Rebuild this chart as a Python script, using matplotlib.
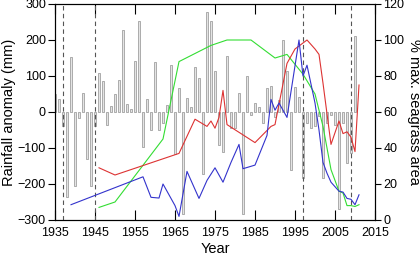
import matplotlib
matplotlib.use("Agg")
import matplotlib.pyplot as plt

plt.rcParams["font.family"] = ["Liberation Sans", "DejaVu Sans"]

# annual rainfall anomaly (mm), 1935-2010
years = list(range(1935, 2011))
rain = [50, 35, -40, -235, 154, -206, -17, 52, -130, -206,
        -40, 109, 85, -36, 17, 49, 89, 227, 22, 7,
        142, 254, -96, 35, -50, 140, -50, -30, 20, 130,
        -118, 66, -283, 40, 13, 126, 94, -173, 277, 254,
        115, -92, -111, 155, -45, -45, 52, -284, 101, -8,
        24, 13, -31, 66, 72, -13, 33, 201, 115, -160,
        69, 43, -183, -31, -45, -40, -10, -184, -30, -8,
        -36, -270, -31, -141, -115, 211]

# % of maximum seagrass area
green_yr = [1946, 1950, 1962, 1966, 1974, 1978, 1984, 1990, 1993, 1997,
            2000, 2002, 2004, 2006, 2007, 2008, 2009, 2010, 2011]
green = [7, 10, 45, 88, 97, 100, 100, 90, 92, 81,
         70, 52, 28, 16, 15, 8, 8, 7.5, 8.5]

red_yr = [1946, 1950, 1966, 1970, 1973, 1974, 1975, 1976, 1977, 1978,
          1985, 1989, 1990, 1993, 1995, 1998, 2000, 2001, 2002, 2004,
          2006, 2007, 2008, 2009, 2010, 2011]
red = [29, 25, 37, 56, 52, 55, 51, 57, 72, 53,
       43, 52, 53, 87, 95, 100, 95, 92, 76, 42,
       55, 48, 49, 46, 38, 75]

blue_yr = [1939, 1957, 1959, 1961, 1962, 1963, 1965, 1966, 1968, 1971,
           1973, 1975, 1977, 1979, 1981, 1982, 1985, 1988, 1989, 1990,
           1991, 1993, 1996, 1997, 1998, 2000, 2001, 2002, 2003, 2004,
           2006, 2007, 2008, 2009, 2010, 2011]
blue = [8.5, 24, 12.6, 12.2, 20, 16, 8, 2, 27, 12,
        22, 29, 21, 32, 42, 28.5, 30.5, 47, 67, 61,
        65, 57, 100, 80, 86, 65, 50, 32, 26, 21,
        16, 15.5, 12, 11.5, 8.5, 14]

events = [1937, 1945, 1997, 2009]

fig = plt.figure(figsize=(4.2, 2.56), dpi=100)
ax = fig.add_axes([55 / 420, 36 / 256, 320 / 420, 216 / 256])

ax.bar(years, rain, width=0.5, color="#e4e4e4", edgecolor="#a0a0a0", linewidth=0.6)
for yr in events:
    ax.axvline(yr, color="#555555", ls=(0, (4, 3)), lw=0.8)

ax.set_xlim(1935, 2015)
ax.set_ylim(-300, 300)
ax.set_xticks(range(1935, 2016, 10))
ax.set_yticks(range(-300, 301, 100))
ax.set_yticklabels([str(v).replace("-", "\u2212") for v in range(-300, 301, 100)])
ax.tick_params(axis="x", direction="in", length=7, top=True, labelsize=9, pad=5)
ax.tick_params(axis="y", direction="out", length=5, labelsize=9, pad=1.5)
ax.set_xlabel("Year", fontsize=10.5, labelpad=2)
ax.set_ylabel("Rainfall anomaly (mm)", fontsize=10.5, labelpad=1.5)

ax2 = ax.twinx()
ax2.plot(green_yr, green, color="#33dd33", lw=0.8)
ax2.plot(red_yr, red, color="#dd3333", lw=0.8)
ax2.plot(blue_yr, blue, color="#3333cc", lw=0.8)
ax2.set_ylim(0, 120)
ax2.set_yticks(range(0, 121, 20))
ax2.tick_params(axis="y", direction="out", length=4, labelsize=9, pad=2)
ax2.set_ylabel("% max. seagrass area", fontsize=10.5, rotation=270, labelpad=12)

fig.savefig("out.png", dpi=100)
